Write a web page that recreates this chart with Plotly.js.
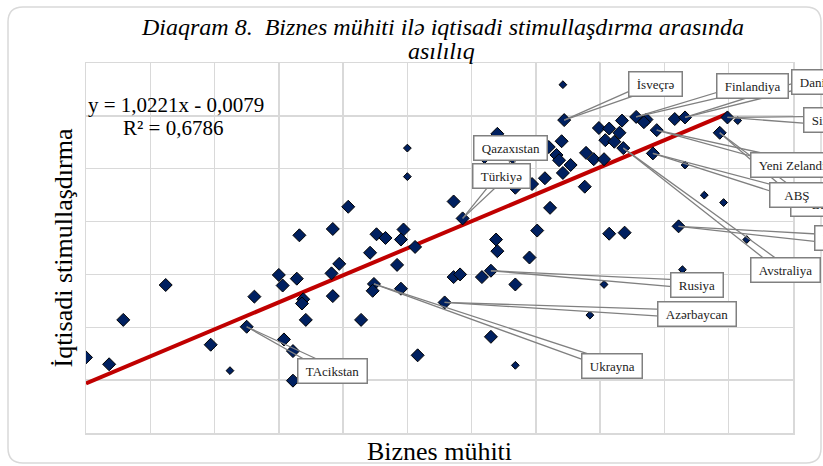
<!DOCTYPE html>
<html>
<head>
<meta charset="utf-8">
<script src="https://cdn.plot.ly/plotly-3.0.1.min.js"></script>
<style>html,body{margin:0;padding:0;background:#fff;}#chart{width:823px;height:466px;}</style>
</head>
<body>
<div id="chart"></div>
<script>
// ---- data ----
const bigX = [0.100,0.118,0.129,0.162,0.197,0.225,0.231,0.250,0.253,0.254,0.261,0.261,0.264,0.266,0.269,0.268,0.271,
  0.292,0.291,0.297,0.292,0.304,0.314,0.321,0.326,0.333,0.324,0.323,0.342,0.347,0.345,0.345,0.356,0.358,
  0.386,0.393,0.386,0.391,0.408,0.415,0.419,0.420,0.434,0.445,0.379,0.415,0.420,0.434,0.447,0.457,0.461,0.451,
  0.472,0.470,0.460,0.466,0.468,0.477,0.471,0.489,0.495,0.503,0.488,0.499,0.507,0.517,0.515,0.504,0.511,0.518,
  0.528,0.536,0.534,0.544,0.541,0.558,0.566,0.599,0.593,0.561,0.507,0.519,0.410,0.432];
const bigY = [0.143,0.130,0.214,0.280,0.167,0.201,0.258,0.299,0.279,0.177,0.155,0.099,0.292,0.374,0.253,0.245,0.214,
  0.386,0.302,0.320,0.259,0.428,0.214,0.341,0.376,0.369,0.282,0.269,0.318,0.385,0.366,0.273,0.352,0.147,
  0.438,0.406,0.295,0.300,0.295,0.307,0.366,0.344,0.281,0.332,0.247,0.182,0.566,0.464,0.471,0.482,0.426,0.383,
  0.592,0.552,0.541,0.526,0.516,0.507,0.492,0.530,0.518,0.518,0.466,0.577,0.576,0.591,0.568,0.554,0.551,0.539,
  0.598,0.593,0.588,0.573,0.529,0.594,0.597,0.597,0.568,0.391,0.377,0.379,0.522,0.522];
const smallX = [0.212,0.350,0.350,0.471,0.434,0.503,0.492,0.564,0.566,0.581,0.596,0.614,0.607];
const smallY = [0.118,0.539,0.485,0.659,0.128,0.281,0.223,0.309,0.507,0.450,0.436,0.366,0.591];
const trendX = [0.100, 0.600];
const trendY = [0.094, 0.605];
const labelNames = ["Türkiyə","Qazaxıstan","İsveçrə","Finlandiya","Danimarka","Sinqapur","Yeni Zelandiya",
  "Britaniya","ABŞ","Norveç","Avstraliya","Rusiya","Azərbaycan","Ukrayna","TAcikstan"];
const labelX = [0.393,0.434,0.472,0.528,0.566,0.599,0.544,0.593,0.541,0.561,0.518,0.415,0.379,0.324,0.225];
const labelY = [0.406,0.464,0.592,0.598,0.597,0.597,0.573,0.568,0.529,0.391,0.539,0.307,0.247,0.282,0.201];
const titleLine1 = "Diaqram 8.&nbsp; Biznes mühiti ilə iqtisadi stimullaşdırma arasında";
const titleLine2 = "asılılıq";
const xTitle = "Biznes mühiti";
const yTitle = "İqtisadi stimullaşdırma";
const equationText = "y = 1,0221x - 0,0079";
const r2Text = "R² = 0,6786";

// ---- layout helpers (positions in pixels of the 823x466 page) ----
const PL = 86, PR = 793, PT = 63, PB = 433;
const px = v => (v - PL) / (PR - PL);
const py = v => (PB - v) / (PB - PT);
// label box placement: [ax, ay, xanchor, leading pad, trailing pad] (pixels from the labelled point)
const labelPlace = [
  [39,-42,"center",1,1],[-5,-40,"center",1,1],[91,-36,"center",1,1],[116,-31,"center",1,1],
  [106,-35,"left",1,1],[76,3,"left",1,1],[142,35,"center",1,1],[70,71,"left",5,1],
  [144,42,"center",3,3],[135,12,"left",1,1],[162,122,"center",1,1],[206,14,"center",1,1],
  [252,12,"center",1,1],[238,82,"center",1,1],[86,44,"center",1,1]];
const boxOrder = [0,1,2,3,4,5,6,7,8,9,10,11,12,13,14];

const FONT = "Liberation Serif, Times New Roman, serif";
const LEADER = "#808080";

const traces = [
  {x: trendX, y: trendY, mode: "lines", line: {color: "#c00000", width: 4}, hoverinfo: "skip"},
  {x: bigX, y: bigY, mode: "markers", marker: {symbol: "diamond", size: 10, color: "#002060", line: {color: "#000", width: 1}}},
  {x: smallX, y: smallY, mode: "markers", marker: {symbol: "diamond", size: 6, color: "#002060", line: {color: "#000", width: 1}}}
];

const annotations = [];
// wedge-shaped leader lines (two lines per callout), drawn under the boxes
labelNames.forEach((n, i) => {
  const p = labelPlace[i];
  const tx = p[0] + (p[2] === "left" ? 18 : 0), ty = p[1];
  const len = Math.hypot(tx, ty), d = 4;
  const nx = -ty / len * d, ny = tx / len * d;
  [1, -1].forEach(s => annotations.push({
    x: labelX[i], y: labelY[i], xref: "x", yref: "y", text: "", showarrow: true,
    arrowhead: 0, arrowwidth: 1.3, arrowcolor: LEADER, ax: tx + s * nx, ay: ty + s * ny
  }));
});
boxOrder.forEach(i => {
  const p = labelPlace[i];
  annotations.push({
    x: labelX[i], y: labelY[i], xref: "x", yref: "y",
    text: "&nbsp;".repeat(p[3]) + labelNames[i] + "&nbsp;".repeat(p[4]),
    showarrow: true, arrowhead: 0, arrowwidth: 0.1, arrowcolor: "rgba(0,0,0,0)",
    ax: p[0], ay: p[1], xanchor: p[2], yanchor: "middle",
    bgcolor: "#ffffff", bordercolor: LEADER, borderwidth: 1.5, borderpad: 4,
    font: {family: FONT, size: 13, color: "#222"}
  });
});
annotations.push({xref: "paper", yref: "paper", x: px(176), y: py(105), xanchor: "center", yanchor: "middle",
  text: equationText, showarrow: false, font: {family: FONT, size: 21, color: "#000"}});
annotations.push({xref: "paper", yref: "paper", x: px(173), y: py(128), xanchor: "center", yanchor: "middle",
  text: r2Text, showarrow: false, font: {family: FONT, size: 21, color: "#000"}});
annotations.push({xref: "paper", yref: "paper", x: px(442.5), y: py(27), xanchor: "center", yanchor: "middle",
  text: titleLine1, showarrow: false, font: {family: FONT, size: 24, style: "italic", color: "#000"}});
annotations.push({xref: "paper", yref: "paper", x: px(441), y: py(51), xanchor: "center", yanchor: "middle",
  text: titleLine2, showarrow: false, font: {family: FONT, size: 24, style: "italic", color: "#000"}});

// rounded outer border
const L = 8, R = 821, T = 7, B = 463, rad = 15;
const P = (x, y) => px(x) + "," + py(y);
const borderPath = "M" + P(L + rad, T) + " L" + P(R - rad, T) + " Q" + P(R, T) + " " + P(R, T + rad) +
  " L" + P(R, B - rad) + " Q" + P(R, B) + " " + P(R - rad, B) + " L" + P(L + rad, B) +
  " Q" + P(L, B) + " " + P(L, B - rad) + " L" + P(L, T + rad) + " Q" + P(L, T) + " " + P(L + rad, T) + " Z";

const layout = {
  width: 823, height: 466,
  margin: {l: PL, r: 823 - PR, t: PT, b: 466 - PB},
  paper_bgcolor: "#fff", plot_bgcolor: "#fff",
  showlegend: false,
  xaxis: {range: [0.1, 0.65], tick0: 0.1, dtick: 0.05, showticklabels: false, ticks: "",
    showgrid: true, gridcolor: "#d9d9d9", gridwidth: 1.5, zeroline: false,
    showline: true, linecolor: "#d9d9d9", linewidth: 1.5, mirror: true,
    title: {text: xTitle, font: {family: FONT, size: 26, color: "#000"}, standoff: 10}},
  yaxis: {range: [0, 0.7], tick0: 0, dtick: 0.1, showticklabels: false, ticks: "",
    showgrid: true, gridcolor: "#d9d9d9", gridwidth: 1.5, zeroline: false,
    showline: true, linecolor: "#d9d9d9", linewidth: 1.5, mirror: true,
    title: {text: yTitle, font: {family: FONT, size: 26, color: "#000"}, standoff: 4}},
  shapes: [{type: "path", xref: "paper", yref: "paper", path: borderPath, line: {color: "#d9d9d9", width: 1.5}, layer: "below"}],
  annotations: annotations
};

Plotly.newPlot("chart", traces, layout, {displayModeBar: false, staticPlot: true});
</script>
</body>
</html>
